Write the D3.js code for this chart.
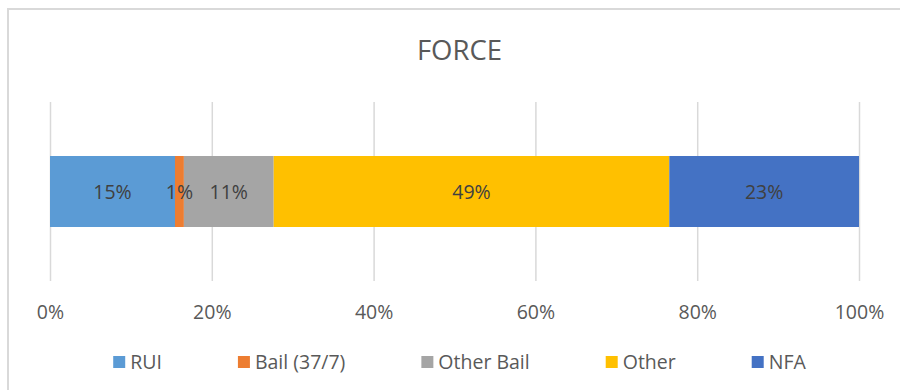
<!DOCTYPE html>
<html>
<head>
<meta charset="utf-8">
<script src="https://cdn.jsdelivr.net/npm/d3@7"></script>
<style>
  html, body { margin: 0; padding: 0; background: #ffffff; }
  svg { display: block; }
</style>
</head>
<body>
<svg id="chart" width="900" height="390"></svg>
<script>
const title = "FORCE";
const category = ["FORCE"];
const seriesNames = ["RUI", "Bail (37/7)", "Other Bail", "Other", "NFA"];
const seriesValues = [15.45, 1.1, 11.1, 48.9, 23.45];
const seriesColors = ["#5B9BD5", "#ED7D31", "#A5A5A5", "#FFC000", "#4472C4"];
const tickValues = [0, 0.2, 0.4, 0.6, 0.8, 1.0];

const svg = d3.select("#chart");
const font = "'Open Sans', 'Liberation Sans', sans-serif";
const textColor = "#595959";

// chart border
svg.append("rect")
  .attr("x", 8).attr("y", 9).attr("width", 920).attr("height", 420)
  .attr("fill", "#ffffff").attr("stroke", "#d9d9d9").attr("stroke-width", 2);

const plot = { left: 50, right: 859, top: 102, bottom: 281 };

const x = d3.scaleLinear().domain([0, 1]).range([plot.left, plot.right]);
const y = d3.scaleBand().domain(category).range([plot.top, plot.bottom]).padding(0.432);

// title
svg.append("text")
  .attr("x", 459.5).attr("y", 60)
  .attr("text-anchor", "middle")
  .attr("font-family", font).attr("font-size", 27.5)
  .attr("fill", textColor)
  .text(title);

// gridlines + tick labels via axis
const axis = d3.axisBottom(x)
  .tickValues(tickValues)
  .tickFormat(d3.format(".0%"))
  .tickSizeInner(-(plot.bottom - plot.top))
  .tickSizeOuter(0)
  .tickPadding(24);

const gAxis = svg.append("g")
  .attr("transform", `translate(0,${plot.bottom})`)
  .call(axis);
gAxis.select(".domain").remove();
gAxis.selectAll(".tick line").attr("stroke", "#d9d9d9").attr("stroke-width", 1.5);
gAxis.selectAll(".tick text")
  .attr("font-family", font).attr("font-size", 19.5)
  .attr("fill", textColor);

// stacked segments
const total = d3.sum(seriesValues);
let cum = 0;
const segs = seriesValues.map((v, i) => {
  const s = { name: seriesNames[i], v: v / total, start: cum / total, color: seriesColors[i] };
  cum += v;
  return s;
});

const gBars = svg.append("g");
gBars.selectAll("rect").data(segs).enter().append("rect")
  .attr("x", d => x(d.start))
  .attr("y", y(category[0]))
  .attr("width", d => x(d.start + d.v) - x(d.start))
  .attr("height", y.bandwidth())
  .attr("fill", d => d.color);

gBars.selectAll("text").data(segs).enter().append("text")
  .attr("x", d => (x(d.start) + x(d.start + d.v)) / 2)
  .attr("y", y(category[0]) + y.bandwidth() / 2)
  .attr("dy", "0.36em")
  .attr("text-anchor", "middle")
  .attr("font-family", font).attr("font-size", 19.5)
  .attr("fill", "#404040")
  .text(d => d3.format(".0%")(d.v));

// legend
const gLeg = svg.append("g");
const sq = 12, gapText = 5, gapItem = 76, legY = 362;
let lx = 0;
seriesNames.forEach((name, i) => {
  const g = gLeg.append("g").attr("transform", `translate(${lx},0)`);
  g.append("rect").attr("x", 0).attr("y", legY - sq / 2).attr("width", sq).attr("height", sq)
    .attr("fill", seriesColors[i]);
  const t = g.append("text").attr("x", sq + gapText).attr("y", legY).attr("dy", "0.36em")
    .attr("font-family", font).attr("font-size", 19.5)
    .attr("fill", textColor).text(name);
  lx += sq + gapText + t.node().getComputedTextLength() + gapItem;
});
const legW = lx - gapItem;
gLeg.attr("transform", `translate(${459.5 - legW / 2},0)`);
</script>
</body>
</html>
